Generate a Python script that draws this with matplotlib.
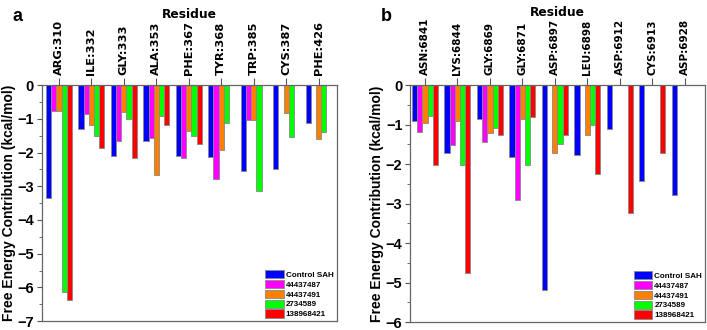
import numpy as np
import matplotlib
matplotlib.use("Agg")
import matplotlib.pyplot as plt
from matplotlib.ticker import MultipleLocator

# panel a data
res_a = ['ARG:310', 'ILE:332', 'GLY:333', 'ALA:353', 'PHE:367',
         'TYR:368', 'TRP:385', 'CYS:387', 'PHE:426']
ctrl_a = [-3.35, -1.31, -2.11, -1.65, -2.11, -2.13, -2.55, -2.49, -1.11]
c44437487_a = [-0.77, -0.85, -1.66, -1.58, -2.15, -2.79, -1.04, 0, 0]
c44437491_a = [-0.76, -1.17, -0.81, -2.66, -1.37, -1.91, -1.02, -0.83, -1.59]
c2734589_a = [-6.13, -1.52, -0.99, -0.93, -1.52, -1.11, -3.13, -1.55, -1.39]
c138968421_a = [-6.36, -1.86, -2.17, -1.19, -1.74, 0, 0, 0, 0]

# panel b data
res_b = ['ASN:6841', 'LYS:6844', 'GLY:6869', 'GLY:6871', 'ASP:6897',
         'LEU:6898', 'ASP:6912', 'CYS:6913', 'ASP:6928']
ctrl_b = [-0.92, -1.71, -0.87, -1.82, -5.20, -1.78, -1.10, -2.43, -2.78]
c44437487_b = [-1.18, -1.52, -1.45, -2.91, 0, 0, 0, 0, 0]
c44437491_b = [-0.97, -0.92, -1.20, -0.86, -1.72, -1.25, 0, 0, 0]
c2734589_b = [-0.79, -2.03, -1.08, -2.03, -1.50, -1.02, 0, 0, 0]
c138968421_b = [-2.01, -4.76, -1.26, -0.81, -1.27, -2.24, -3.23, -1.73, 0]

labels = ['Control SAH', '44437487', '44437491', '2734589', '138968421']
colors = ['#0000ff', '#ff00ff', '#ff8000', '#00ff00', '#ff0000']

plt.rcParams['font.family'] = 'Liberation Sans'
plt.rcParams['font.weight'] = 'bold'

fig = plt.figure(figsize=(7.07, 3.30), dpi=100)


def panel(rect, res, series, ymin, letter, xlim, resfs):
    ax = fig.add_axes(rect)
    x = np.arange(len(res))
    w = 0.16
    for k, vals in enumerate(series):
        ax.bar(x + (k - 2) * w, vals, w, color=colors[k], edgecolor='#888888',
               linewidth=0.6, label=labels[k])
    ax.set_xlim(*xlim)
    ax.set_ylim(ymin, 0)
    ax.xaxis.tick_top()
    ax.xaxis.set_label_position('top')
    ax.set_xticks(x)
    ax.set_xticklabels(res, rotation=90, fontsize=resfs, fontweight='bold',
                       family='DejaVu Sans')
    ax.set_xlabel('Residue', fontsize=8.8, fontweight='bold', labelpad=1.5,
                  family='DejaVu Sans')
    ax.yaxis.set_minor_locator(MultipleLocator(0.5))
    ticks = np.arange(ymin, 1, 1)
    ax.set_yticks(ticks)
    ax.set_yticklabels([f'{v}'.replace('-', '\u2212') for v in ticks],
                       fontsize=10.5, fontweight='bold')
    ax.tick_params(axis='x', length=5, width=0.8, pad=2, color='#555555')
    ax.tick_params(axis='y', which='major', length=3.5, width=0.8, pad=2,
                   color='#555555')
    ax.tick_params(axis='y', which='minor', length=2, width=0.6,
                   color='#555555')
    for s in ax.spines.values():
        s.set_color('#666666')
        s.set_linewidth(0.9)
    ax.set_ylabel('Free Energy Contribution (kcal/mol)', fontsize=10,
                  fontweight='bold', labelpad=1)
    leg = ax.legend(loc='lower right', frameon=False, fontsize=5.8,
                    handlelength=2.3, handleheight=1.2, labelspacing=0.12,
                    borderaxespad=0.15, handletextpad=0.25, borderpad=0.2)
    for t in leg.get_texts():
        t.set_fontweight('bold')
    fig.text(rect[0] - 0.041, 0.935, letter, fontsize=13, fontweight='bold')
    return ax


panel([0.059, 0.027, 0.417, 0.715], res_a,
      [ctrl_a, c44437487_a, c44437491_a, c2734589_a, c138968421_a],
      -7, 'a', (-0.53, 8.55), 8.2)
panel([0.58, 0.024, 0.417, 0.718], res_b,
      [ctrl_b, c44437487_b, c44437491_b, c2734589_b, c138968421_b],
      -6, 'b', (-0.46, 8.62), 7.5)

fig.savefig('out.png', dpi=100)
